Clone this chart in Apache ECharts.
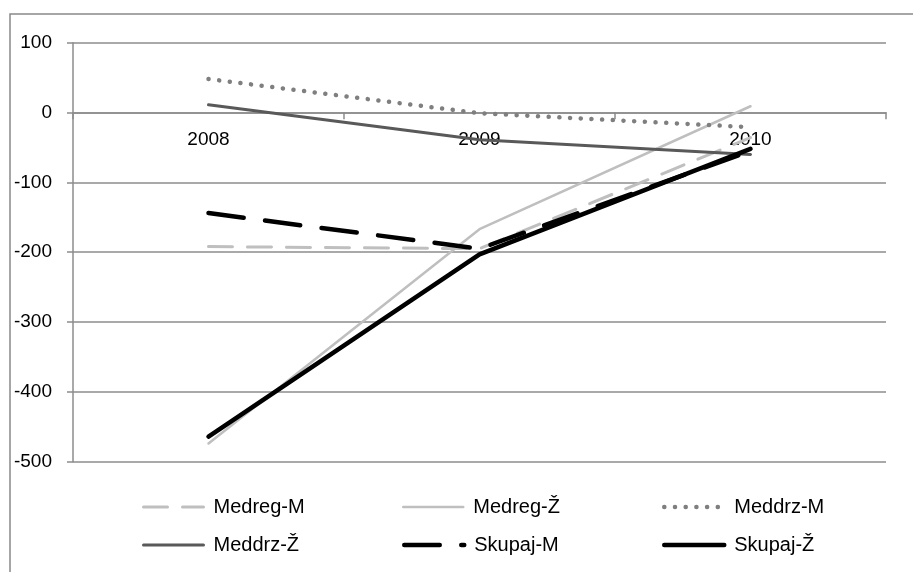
<!DOCTYPE html>
<html>
<head>
<meta charset="utf-8">
<script src="https://cdn.jsdelivr.net/npm/echarts@6/dist/echarts.min.js"></script>
<style>
    html, body { margin: 0; padding: 0; background: #fff; }
    #main { width: 913px; height: 572px; }
</style>
</head>
<body>
<div id="main"></div>
<script>
var years = ['2008', '2009', '2010'];
var seriesNames = ['Medreg-M', 'Medreg-Ž', 'Meddrz-M', 'Meddrz-Ž', 'Skupaj-M', 'Skupaj-Ž'];
var medregM = [-192, -195, -36];
var medregZ = [-474, -167, 9];
var meddrzM = [48, -1, -21];
var meddrzZ = [11, -39, -60];
var skupajM = [-144, -195, -55];
var skupajZ = [-464, -203, -52];
var yTicks = [-500, -400, -300, -200, -100, 0, 100];

var font = 'Liberation Sans';
var gridGray = '#8c8c8c';
var lineWidths = [3, 2.5, 4.5, 3, 4.5, 4.5];

function lineSeries(name, data, color, width, type) {
    return {
        name: name,
        type: 'line',
        data: data,
        symbol: 'none',
        smooth: false,
        animation: false,
        lineStyle: {
            color: color,
            width: width,
            type: type || 'solid',
            cap: 'round'
        },
        itemStyle: { color: color }
    };
}

// dash arrays are in pixels (not scaled by width)
var series = [
    lineSeries(seriesNames[0], medregM, '#bfbfbf', lineWidths[0], [24, 15]),
    lineSeries(seriesNames[1], medregZ, '#bfbfbf', lineWidths[1]),
    lineSeries(seriesNames[2], meddrzM, '#7f7f7f', lineWidths[2], [0.1, 10.6]),
    lineSeries(seriesNames[3], meddrzZ, '#595959', lineWidths[3]),
    lineSeries(seriesNames[4], skupajM, '#000000', lineWidths[4], [35.5, 21.5]),
    lineSeries(seriesNames[5], skupajZ, '#000000', lineWidths[5])
];

// one legend per item so the columns line up like the original
var legendPos = [
    [142, 497], [402, 497], [662, 497],
    [142, 535], [402, 535], [662, 535]
];
var legends = [];
for (var i = 0; i < seriesNames.length; i++) {
    legends.push({
        data: [seriesNames[i]],
        left: legendPos[i][0],
        top: legendPos[i][1],
        padding: 0,
        itemWidth: 60,
        itemHeight: 20,
        selectedMode: false,
        itemStyle: { opacity: 0 },
        lineStyle: { width: lineWidths[i], cap: 'round' },
        textStyle: {
            fontFamily: font,
            fontSize: 20,
            color: '#000',
            padding: [0, 0, 0, 5]
        }
    });
}

var chart = echarts.init(document.getElementById('main'));
var option = {
    backgroundColor: '#fff',
    animation: false,
    graphic: [{
        type: 'rect',
        shape: { x: 10, y: 14, width: 960, height: 620 },
        style: { fill: 'none', stroke: '#898989', lineWidth: 1.5 },
        silent: true
    }],
    grid: {
        left: 73,
        right: 27,
        top: 42.7,
        bottom: 110.3
    },
    legend: legends,
    xAxis: {
        type: 'category',
        data: years,
        boundaryGap: true,
        position: 'bottom',
        // move the axis up to the zero line (labels follow it)
        offset: -349.4,
        axisLine: { onZero: false, lineStyle: { color: gridGray, width: 1.5 } },
        axisTick: { show: true, length: 7, inside: false, alignWithLabel: false, lineStyle: { color: gridGray, width: 1.5 } },
        axisLabel: {
            interval: 0,
            margin: 18,
            fontFamily: font,
            fontSize: 19,
            color: '#000'
        },
        splitLine: { show: false }
    },
    yAxis: {
        type: 'value',
        min: yTicks[0],
        max: yTicks[yTicks.length - 1],
        interval: 100,
        axisLine: { show: true, lineStyle: { color: gridGray, width: 1.5 } },
        axisTick: { show: true, length: 6, lineStyle: { color: gridGray, width: 1.5 } },
        axisLabel: {
            margin: 21,
            fontFamily: font,
            fontSize: 19,
            color: '#000'
        },
        splitLine: { show: true, lineStyle: { color: gridGray, width: 1.5 } }
    },
    series: series
};
chart.setOption(option);
</script>
</body>
</html>
